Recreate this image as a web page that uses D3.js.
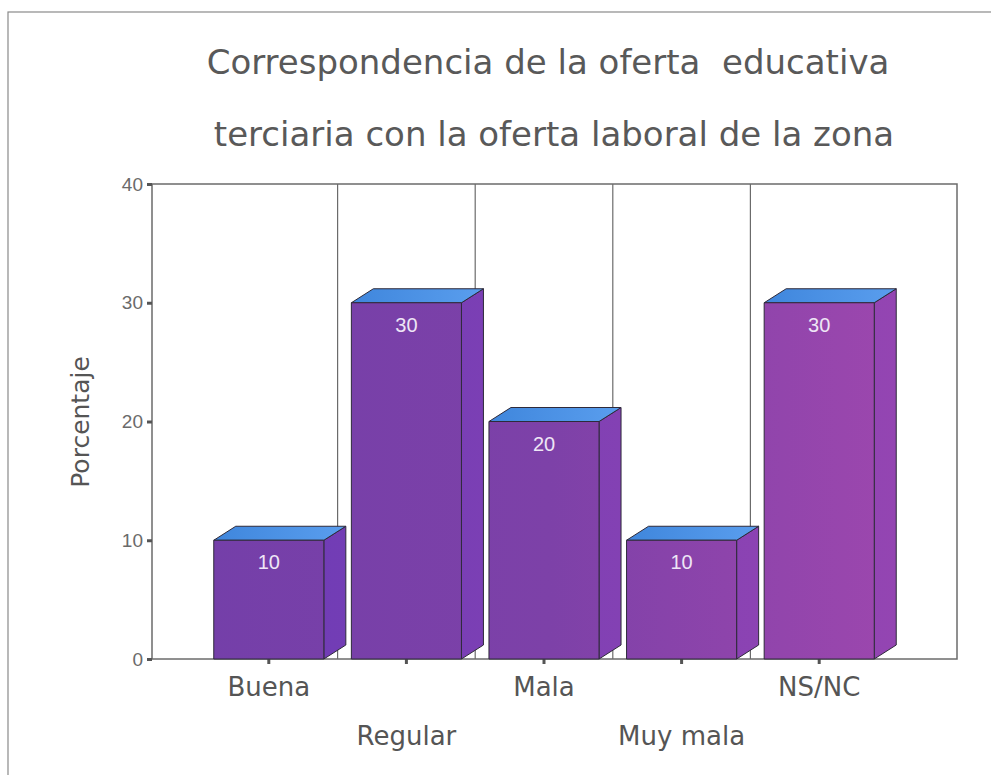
<!DOCTYPE html>
<html>
<head>
<meta charset="utf-8">
<script src="https://cdn.jsdelivr.net/npm/d3@7"></script>
<style>
  html, body { margin: 0; padding: 0; background: #fff; }
  svg { display: block; font-family: "DejaVu Sans", Verdana, sans-serif; }
</style>
</head>
<body>
<svg id="chart"></svg>
<script>
const categories = ["Buena", "Regular", "Mala", "Muy mala", "NS/NC"];
const values = [10, 30, 20, 10, 30];
const yTicks = [0, 10, 20, 30, 40];
const titleLines = ["Correspondencia de la oferta  educativa", "terciaria con la oferta laboral de la zona"];

const width = 991;
const height = 775;
const plot = { left: 152, right: 957, top: 184, bottom: 659 };
const depthX = 22, depthY = 14;

const svg = d3.select("#chart")
    .attr("width", width)
    .attr("height", height)
    .attr("viewBox", [0, 0, width, height]);

const defs = svg.append("defs");
const frontGrad = defs.append("linearGradient")
    .attr("id", "front").attr("gradientUnits", "userSpaceOnUse")
    .attr("x1", 200).attr("x2", 900).attr("y1", 0).attr("y2", 0);
frontGrad.append("stop").attr("offset", 0).attr("stop-color", "#743fa9");
frontGrad.append("stop").attr("offset", 0.5).attr("stop-color", "#7d41a8");
frontGrad.append("stop").attr("offset", 1).attr("stop-color", "#9d47ae");
const sideGrad = defs.append("linearGradient")
    .attr("id", "side").attr("gradientUnits", "userSpaceOnUse")
    .attr("x1", 200).attr("x2", 900).attr("y1", 0).attr("y2", 0);
sideGrad.append("stop").attr("offset", 0).attr("stop-color", "#6a3bb6");
sideGrad.append("stop").attr("offset", 1).attr("stop-color", "#9445b2");
const topGrad = defs.append("linearGradient")
    .attr("id", "topface").attr("x1", 0).attr("x2", 1).attr("y1", 0).attr("y2", 0);
topGrad.append("stop").attr("offset", 0).attr("stop-color", "#3f86dc");
topGrad.append("stop").attr("offset", 1).attr("stop-color", "#5a9eee");

// outer frame of the scanned figure
svg.append("rect")
    .attr("x", 8).attr("y", 12)
    .attr("width", width + 20).attr("height", height + 20)
    .attr("fill", "none").attr("stroke", "#8a8a8a").attr("stroke-width", 1.2);

const x = d3.scaleBand(categories, [200, 888]).paddingInner(0.2).paddingOuter(0.1);
const y = d3.scaleLinear([0, 40], [plot.bottom, plot.top]);
const step = x.step();

// title
svg.append("g")
    .selectAll("text")
    .data(titleLines)
    .join("text")
    .attr("x", (d, i) => i === 0 ? 548 : 554)
    .attr("y", (d, i) => 74 + i * 72)
    .attr("text-anchor", "middle")
    .attr("fill", "#595959")
    .attr("font-size", 34)
    .attr("xml:space", "preserve")
    .text(d => d);

// plot frame
svg.append("rect")
    .attr("x", plot.left).attr("y", plot.top)
    .attr("width", plot.right - plot.left).attr("height", plot.bottom - plot.top)
    .attr("fill", "none").attr("stroke", "#6b6b6b").attr("stroke-width", 1.5);

// vertical separators between categories
svg.append("g")
    .selectAll("line")
    .data(categories.slice(1))
    .join("line")
    .attr("x1", d => x(d) - step * x.paddingInner() / 2)
    .attr("x2", d => x(d) - step * x.paddingInner() / 2)
    .attr("y1", plot.top).attr("y2", plot.bottom)
    .attr("stroke", "#6b6b6b").attr("stroke-width", 1.2);

// y axis
svg.append("g")
    .attr("transform", `translate(${plot.left},0)`)
    .call(d3.axisLeft(y).tickValues(yTicks).tickSize(5).tickPadding(4))
    .call(g => g.select(".domain").remove())
    .call(g => g.selectAll(".tick line").attr("stroke", "#555").attr("stroke-width", 3))
    .call(g => g.selectAll(".tick text")
        .attr("fill", "#6a6a6a").attr("font-size", 19)
        .attr("font-family", "Liberation Sans, Arial, sans-serif"));

// x axis ticks and staggered labels
svg.append("g")
    .attr("transform", `translate(0,${plot.bottom})`)
    .call(d3.axisBottom(x).tickSize(5).tickPadding(0))
    .call(g => g.attr("font-family", "DejaVu Sans, Verdana, sans-serif"))
    .call(g => g.select(".domain").remove())
    .call(g => g.selectAll(".tick line").attr("stroke", "#555").attr("stroke-width", 3))
    .call(g => g.selectAll(".tick text")
        .attr("fill", "#555").attr("font-size", 26)
        .attr("dy", null)
        .attr("y", (d, i) => i % 2 === 0 ? 37 : 86));

// y axis title
svg.append("text")
    .attr("transform", "translate(89,422) rotate(-90)")
    .attr("text-anchor", "middle")
    .attr("fill", "#555")
    .attr("font-size", 25)
    .text("Porcentaje");

// 3D bars
const data = categories.map((c, i) => ({ cat: c, value: values[i] }));
const bars = svg.append("g")
    .selectAll("g")
    .data(data)
    .join("g")
    .attr("stroke", "#2e2a3a").attr("stroke-width", 1).attr("stroke-linejoin", "round");

bars.append("path")
    .attr("fill", "url(#side)")
    .attr("d", d => {
        const x1 = x(d.cat) + x.bandwidth();
        return `M${x1},${y(d.value)}L${x1 + depthX},${y(d.value) - depthY}L${x1 + depthX},${y(0) - depthY}L${x1},${y(0)}Z`;
    });

bars.append("path")
    .attr("fill", "url(#topface)")
    .attr("d", d => {
        const x0 = x(d.cat), x1 = x0 + x.bandwidth(), yv = y(d.value);
        return `M${x0},${yv}L${x0 + depthX},${yv - depthY}L${x1 + depthX},${yv - depthY}L${x1},${yv}Z`;
    });

bars.append("rect")
    .attr("fill", "url(#front)")
    .attr("x", d => x(d.cat))
    .attr("y", d => y(d.value))
    .attr("width", x.bandwidth())
    .attr("height", d => y(0) - y(d.value));

bars.append("text")
    .attr("stroke", "none")
    .attr("x", d => x(d.cat) + x.bandwidth() / 2)
    .attr("y", d => y(d.value) + 29)
    .attr("text-anchor", "middle")
    .attr("fill", "#eee6f6")
    .attr("font-size", 20)
    .attr("font-family", "Liberation Sans, Arial, sans-serif")
    .text(d => d.value);
</script>
</body>
</html>
